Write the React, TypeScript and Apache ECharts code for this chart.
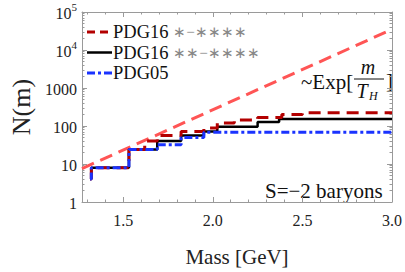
import React, { useEffect, useRef } from "react";
import * as echarts from "echarts";

// ---- data ----
const massPDG16all = [1.315, 1.322, 1.532, 1.62, 1.69, 1.823, 1.95, 2.025, 2.12, 2.25, 2.385, 2.5, 3.0];
const nPDG16all = [4, 8, 24, 40, 56, 72, 88, 120, 144, 168, 200, 224, 224];

const massPDG16 = [1.315, 1.322, 1.532, 1.69, 1.823, 1.95, 2.025, 2.25, 2.37, 3.0];
const nPDG16 = [4, 8, 24, 40, 56, 72, 96, 128, 152, 152];

const massPDG05 = [1.315, 1.322, 1.532, 1.69, 1.823, 1.95, 3.0];
const nPDG05 = [4, 8, 24, 32, 50, 68, 68];

const massExp = [1.27, 3.0];
const nExp = [7.6, 35000];

const legendLabels = ["PDG16", "PDG16", "PDG05"];
const legendStars = ["∗−∗∗∗∗", "∗∗−∗∗∗∗", ""];

const xMajorTicks = [1.5, 2.0, 2.5, 3.0];
const xMinorTicks = [1.3, 1.4, 1.6, 1.7, 1.8, 1.9, 2.1, 2.2, 2.3, 2.4, 2.6, 2.7, 2.8, 2.9];
const yDecades = [0, 1, 2, 3, 4, 5];
const yMinorMultipliers = [2, 3, 4, 5, 6, 7, 8, 9];

const FONT = '"Liberation Serif", "Times New Roman", serif';
const FRAME = "#9a9a9a";

const zip = (xs: number[], ys: number[]) => xs.map((x, i) => [x, ys[i]]);

export default function App() {
  const ref = useRef<HTMLDivElement>(null);
  useEffect(() => {
    if (!ref.current) return;
    const chart = echarts.init(ref.current, null, { renderer: "svg" });

    const yMinorLog: number[] = [];
    yDecades.slice(0, -1).forEach((d) =>
      yMinorMultipliers.forEach((m) => yMinorLog.push(d + Math.log10(m)))
    );

    const xMin = 1.27;
    const xMax = 3.0;

    const majorX = (position: string, labels: boolean) => ({
      type: "value",
      position,
      min: xMin,
      max: xMax,
      axisLine: { show: true, lineStyle: { color: FRAME, width: 1 } },
      axisTick: { show: true, inside: true, length: 5, customValues: xMajorTicks, lineStyle: { color: FRAME } },
      axisLabel: labels
        ? {
            show: true,
            customValues: xMajorTicks,
            formatter: (v: number) => v.toFixed(1),
            fontFamily: FONT,
            fontSize: 16,
            color: "#222",
            margin: 10,
          }
        : { show: false },
      splitLine: { show: false },
      ...(labels
        ? {
            name: "Mass [GeV]",
            nameLocation: "middle",
            nameGap: 44,
            nameTextStyle: { fontFamily: FONT, fontSize: 21, color: "#222" },
          }
        : {}),
    });
    const minorX = (position: string) => ({
      type: "value",
      position,
      min: xMin,
      max: xMax,
      axisLine: { show: false },
      axisTick: { show: true, inside: true, length: 2.5, customValues: xMinorTicks, lineStyle: { color: FRAME } },
      axisLabel: { show: false },
      splitLine: { show: false },
    });

    const majorY = (position: string, labels: boolean) => ({
      type: "log",
      logBase: 10,
      position,
      min: 1,
      max: 100000,
      axisLine: { show: true, lineStyle: { color: FRAME, width: 1 } },
      axisTick: { show: true, inside: true, length: 5, lineStyle: { color: FRAME } },
      axisLabel: labels
        ? {
            show: true,
            margin: 5,
            formatter: (v: number) => {
              const e = Math.round(Math.log10(v));
              return e >= 4 ? `{b|10}{s|${e}}` : `{b|${Math.round(v)}}`;
            },
            rich: {
              b: { fontFamily: FONT, fontSize: 16, color: "#222", lineHeight: 22, padding: [3, 0, 0, 0] },
              s: { fontFamily: FONT, fontSize: 11, color: "#222", lineHeight: 10, verticalAlign: "top" },
            },
          }
        : { show: false },
      splitLine: { show: false },
      ...(labels
        ? {
            name: "N(m)",
            nameLocation: "middle",
            nameGap: 47,
            nameRotate: 90,
            nameTextStyle: { fontFamily: FONT, fontSize: 26, color: "#222" },
          }
        : {}),
    });
    const minorY = (position: string) => ({
      type: "value",
      position,
      min: 0,
      max: 5,
      axisLine: { show: false },
      axisTick: { show: true, inside: true, length: 2.5, customValues: yMinorLog, lineStyle: { color: FRAME } },
      axisLabel: { show: false },
      splitLine: { show: false },
    });

    const rowH = 20.5;
    const row0 = 32;
    const legendLines = [
      { color: "#b30000", dash: [8, 5], width: 3 },
      { color: "#000000", dash: null, width: 2.5 },
      { color: "#1a33ff", dash: [8, 3, 3, 3], width: 3 },
    ];
    const graphics: any[] = [];
    legendLines.forEach((r, i) => {
      const y = row0 + i * rowH;
      graphics.push({
        type: "line",
        shape: { x1: 87, y1: y, x2: 112, y2: y },
        style: { stroke: r.color, lineWidth: r.width, lineDash: r.dash || undefined },
      });
    });
    const legendText = legendLabels
      .map((l, i) => (legendStars[i] ? `{p|${l} }{s|${legendStars[i]}}` : `{p|${l}}`))
      .join("\n");
    graphics.push({
      type: "text",
      x: 113,
      y: row0 - rowH / 2,
      style: {
        text: legendText,
        verticalAlign: "top",
        rich: {
          p: { fontFamily: FONT, fontSize: 18.5, fill: "#111", lineHeight: rowH },
          s: { fontFamily: FONT, fontSize: 15, fill: "#888", lineHeight: rowH },
        },
      },
    });
    // ~Exp[m / T_H]
    graphics.push(
      { type: "text", x: 301, y: 82, style: { text: "~Exp[", font: `21px ${FONT}`, fill: "#111", verticalAlign: "middle" } },
      { type: "text", x: 368, y: 67, style: { text: "m", font: `italic 20px ${FONT}`, fill: "#111", align: "center", verticalAlign: "middle" } },
      { type: "line", shape: { x1: 354, y1: 79, x2: 384, y2: 79 }, style: { stroke: "#111", lineWidth: 1 } },
      { type: "text", x: 362, y: 91, style: { text: "T", font: `italic 20px ${FONT}`, fill: "#111", align: "center", verticalAlign: "middle" } },
      { type: "text", x: 369, y: 96, style: { text: "H", font: `italic 12px ${FONT}`, fill: "#111", verticalAlign: "middle" } },
      { type: "text", x: 386, y: 81, style: { text: "]", font: `21px ${FONT}`, fill: "#111", verticalAlign: "middle" } },
      { type: "text", x: 265, y: 191, style: { text: "S=−2 baryons", font: `21px ${FONT}`, fill: "#111", verticalAlign: "middle" } }
    );

    chart.setOption({
      animation: false,
      backgroundColor: "#ffffff",
      grid: { left: 82, right: 10, top: 12, bottom: 64, containLabel: false },
      xAxis: [majorX("bottom", true), minorX("bottom"), majorX("top", false), minorX("top")],
      yAxis: [majorY("left", true), minorY("left"), majorY("right", false), minorY("right")],
      series: [
        {
          type: "line",
          name: "exp",
          data: zip(massExp, nExp),
          showSymbol: false,
          symbol: "none",
          lineStyle: { color: "#ff5555", width: 3, type: [13, 7] },
          z: 1,
        },
        {
          type: "line",
          name: "PDG16 **-****",
          step: "end",
          data: zip(massPDG16, nPDG16),
          symbol: "none",
          lineStyle: { color: "#000000", width: 2.5 },
          z: 2,
        },
        {
          type: "line",
          name: "PDG16 *-****",
          step: "end",
          data: zip(massPDG16all, nPDG16all),
          symbol: "none",
          lineStyle: { color: "#b30000", width: 3, type: [12, 7] },
          z: 3,
        },
        {
          type: "line",
          name: "PDG05",
          step: "end",
          data: zip(massPDG05, nPDG05),
          symbol: "none",
          lineStyle: { color: "#1a33ff", width: 3, type: [8, 3, 3, 3] },
          z: 4,
        },
      ],
      graphic: graphics,
    });
    return () => chart.dispose();
  }, []);
  return (
    <div
      ref={ref}
      style={{ position: "fixed", left: 0, top: 0, width: 405, height: 272, background: "#fff" }}
    />
  );
}
